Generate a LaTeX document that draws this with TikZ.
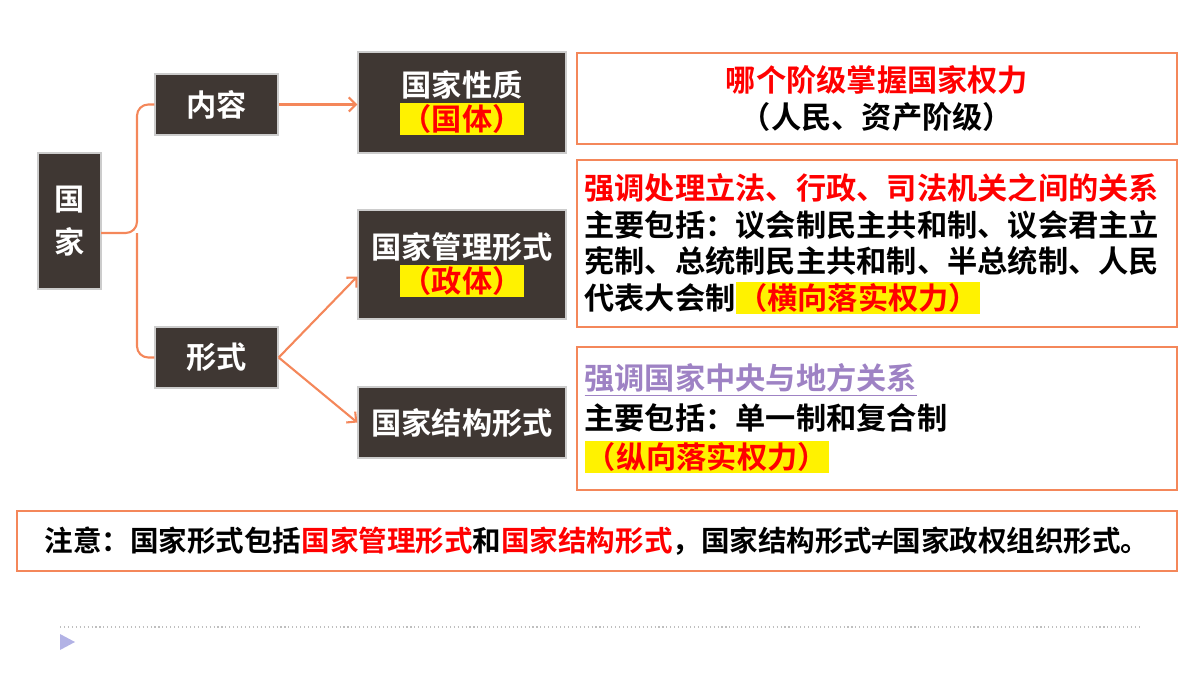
\documentclass[tikz,border=0pt]{standalone}
\usepackage{fontspec}
\setmainfont{Noto Sans CJK SC}
\newfontfamily\cjkb{Noto Sans CJK SC Bold}
\usepackage{xcolor}
\usetikzlibrary{arrows.meta,positioning}
\definecolor{boxbrown}{HTML}{3F3733}
\definecolor{linkorange}{HTML}{F4875A}
\definecolor{softpurple}{HTML}{9E82C4}
\newcommand{\hl}[1]{{\setlength{\fboxsep}{1pt}\colorbox{yellow}{#1}}}
\tikzset{
    darkbox/.style={draw=gray!40, line width=1pt, fill=boxbrown, text=white, font=\cjkb\fontsize{21.5}{27}\selectfont, align=center, inner sep=1pt},
    notebox/.style={draw=linkorange, line width=1.5pt, fill=white, font=\cjkb\fontsize{21.5}{26}\selectfont},
    link/.style={draw=linkorange, line width=1.5pt, -{Straight Barb[length=5pt]}}
}
\begin{document}
\begin{tikzpicture}[x=0.025cm, y=-0.025cm]
    \useasboundingbox (0,0) rectangle (1200,675);
    % left column
    \node [darkbox, minimum width=63*0.025cm, minimum height=136*0.025cm] (state) at (69.5,221) {国\\[4pt]家};
    \node [darkbox, minimum width=123*0.025cm, minimum height=61*0.025cm] (content) at (216.5,104.5) {内容};
    \node [darkbox, minimum width=123*0.025cm, minimum height=61*0.025cm] (form) at (216.5,357.5) {形式};
    % middle column
    \node [darkbox, minimum width=208*0.025cm, minimum height=101*0.025cm] (nature) at (462,102.5) {国家性质\\[-3pt]\hl{\textcolor{red}{（国体）}}};
    \node [darkbox, minimum width=208*0.025cm, minimum height=109*0.025cm] (govern) at (462,264.5) {国家管理形式\\[-3pt]\hl{\textcolor{red}{（政体）}}};
    \node [darkbox, minimum width=208*0.025cm, minimum height=71*0.025cm] (struct) at (462,422.5) {国家结构形式};
    % right column
    \node [notebox, minimum width=600*0.025cm, minimum height=91*0.025cm, align=center] (note1) at (877,98.5)
        {\textcolor{red}{哪个阶级掌握国家权力}\\（人民、资产阶级）};
    \node [notebox, minimum width=600*0.025cm, minimum height=167*0.025cm, text width=585*0.025cm, align=left, inner sep=2pt] (note2) at (877,243.5)
        {\textcolor{red}{强调处理立法、行政、司法机关之间的关系}\\主要包括：议会制民主共和制、议会君主立\\宪制、总统制民主共和制、半总统制、人民\\代表大会制\hl{\textcolor{red}{（横向落实权力）}}};
    \node [notebox, minimum width=600*0.025cm, minimum height=143*0.025cm, text width=585*0.025cm, align=left, inner sep=2pt] (note3) at (877,418.5)
        {\textcolor{softpurple}{\underline{强调国家中央与地方关系}}\\[2pt]主要包括：单一制和复合制\\[2pt]\hl{\textcolor{red}{（纵向落实权力）}}};
    % bottom note
    \node [notebox, minimum width=1160*0.025cm, minimum height=60*0.025cm, inner sep=1pt, font=\cjkb\fontsize{20.3}{24}\selectfont] (caution) at (597,541)
        {注意：国家形式包括\textcolor{red}{国家管理形式}和\textcolor{red}{国家结构形式}，国家结构形式\kern-3pt≠\kern-3pt国家政权组织形式。};
    % connectors
    \coordinate (fork) at (137,233);
    \draw [draw=linkorange, line width=1.5pt, rounded corners=8pt] (101,233) -- (fork) |- (content.west);
    \draw [draw=linkorange, line width=1.5pt, rounded corners=8pt] (fork) |- (form.west);
    \path [link] (content.east) -- (nature.west |- content.east);
    \path [link] (form.east) -- ([yshift=-0.3cm]govern.west);
    \path [link] (form.east) -- (struct.west);
    % footer
    \draw [gray!50, dotted, line width=0.8pt] (60,627) -- (1140,627);
    \fill [gray!50!blue!40] (60,634) -- (75,642) -- (60,650) -- cycle;
\end{tikzpicture}
\end{document}
